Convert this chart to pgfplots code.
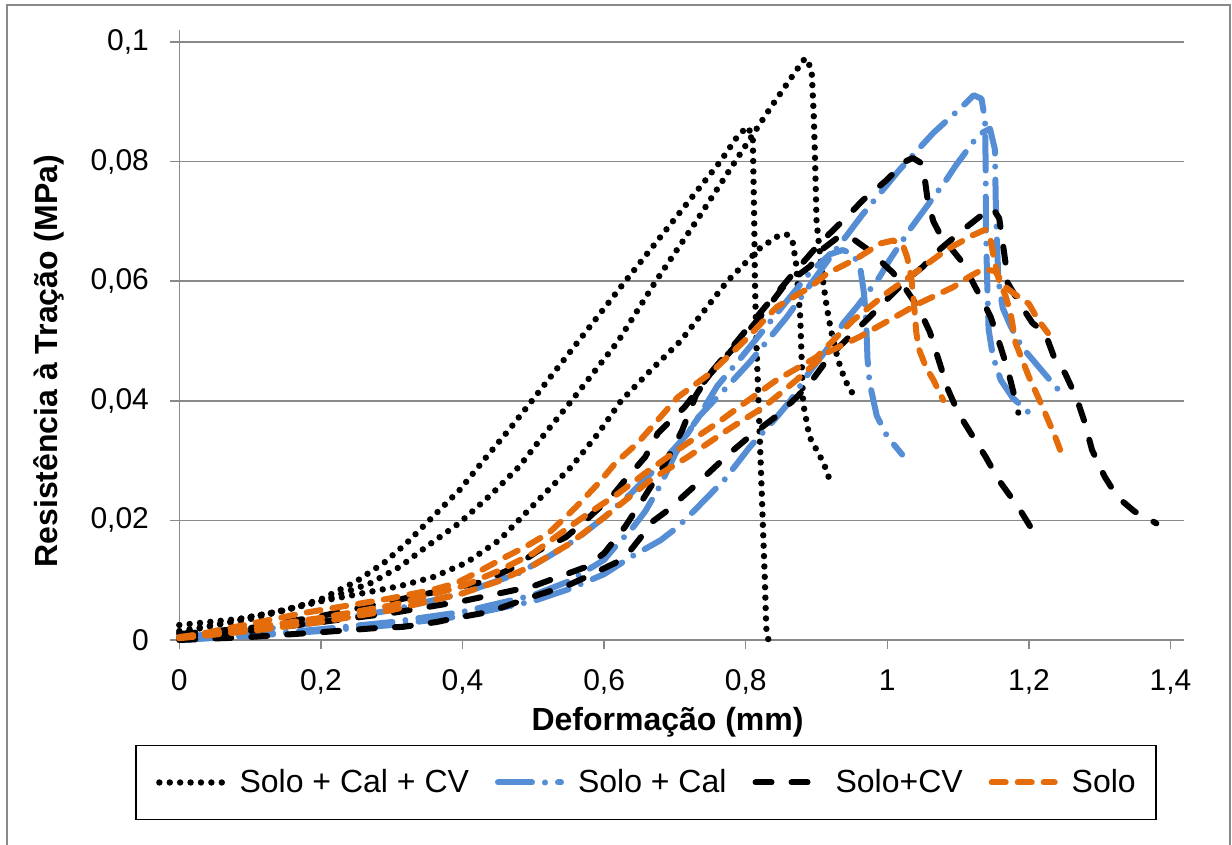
\documentclass[border=0pt]{standalone}
\usepackage{pgfplots}
\pgfplotsset{compat=1.18}
\usepackage{fontspec}
\setmainfont{Liberation Sans}
\definecolor{cblue}{HTML}{558ED5}
\definecolor{corange}{HTML}{E46C0A}
\definecolor{cgrid}{HTML}{898989}
\tikzset{
  sdot/.style={black, line width=3.2pt, line cap=round, line join=round, dash pattern=on 0pt off 5.2pt},
  sblue/.style={cblue, line width=3pt, line cap=round, line join=round, dash pattern=on 17pt off 6.5pt on 0pt off 6.5pt},
  sblack/.style={black, line width=3pt, line cap=round, line join=round, dash pattern=on 8pt off 10pt},
  sorange/.style={corange, line width=3pt, line cap=round, line join=round, dash pattern=on 7pt off 6pt},
}
\begin{document}
\begin{tikzpicture}
\useasboundingbox (0pt,0pt) rectangle (616pt,422.5pt);
\draw[cgrid, line width=0.75pt] (3.5pt,-5pt) -- (3.5pt,420pt) -- (615pt,420pt) -- (615pt,-5pt);
\begin{axis}[
  at={(89.65pt,102.5pt)}, anchor=south west,
  scale only axis, width=502.35pt, height=305pt,
  xmin=0, xmax=1.419, ymin=0, ymax=0.102,
  clip=false,
  axis x line=bottom, axis y line=left,
  axis line style={cgrid, line width=0.75pt, -},
  xtick={0,0.2,0.4,0.6,0.8,1,1.2,1.4},
  xticklabels={0,{0,2},{0,4},{0,6},{0,8},1,{1,2},{1,4}},
  ytick={0,0.02,0.04,0.06,0.08,0.1},
  yticklabels={0,{0,02},{0,04},{0,06},{0,08},{0,1}},
  ymajorgrids, grid style={cgrid, line width=0.75pt},
  tick align=outside, major tick length=4.5pt,
  tick style={cgrid, line width=0.75pt},
  every tick label/.append style={font=\fontsize{15}{18}\selectfont, inner sep=0pt, text=black},
  /pgf/number format/assume math mode=true,
  yticklabel shift=10.5pt, xticklabel shift=10pt,
  xlabel={Deformação (mm)}, ylabel={Resistência à Tração (MPa)},
  xlabel style={font=\fontsize{16}{19}\selectfont\bfseries, at={(axis description cs:0.486,-0.134)}, anchor=center},
  ylabel style={font=\fontsize{16}{19}\selectfont\bfseries, at={(axis description cs:-0.1297,0.457)}, anchor=center, rotate=0},
  legend columns=4,
  legend image code/.code={\draw[#1] (0pt,0pt) -- (31.5pt,0pt);},
  legend style={at={(axis description cs:0.4645,-0.2336)}, anchor=center, draw=black, line width=0.75pt,
    font=\fontsize{16}{19}\selectfont, inner xsep=10pt, inner ysep=10pt,
    nodes={inner xsep=0pt, inner ysep=2pt},
    /tikz/every odd column/.append style={column sep=7pt},
    /tikz/every even column/.append style={column sep=13pt}},
  legend cell align=left,
]
% ---- Solo + Cal + CV (dotted)
\addplot[sdot] coordinates {(0,0.0015)(0.1,0.0035)(0.2,0.0065)(0.27,0.0095)(0.311,0.0122)(0.349,0.0156)(0.396,0.0196)(0.442,0.0245)(0.48,0.029)(0.517,0.0346)(0.554,0.040)(0.62,0.050)(0.673,0.060)(0.73,0.070)(0.785,0.080)(0.835,0.089)(0.87,0.095)(0.884,0.0973)(0.893,0.0955)(0.896,0.088)(0.898,0.080)(0.9,0.070)(0.908,0.061)(0.914,0.056)(0.92,0.052)(0.93,0.047)(0.94,0.0435)(0.952,0.041)};
\addlegendentry{Solo + Cal + CV}
\addplot[sdot, forget plot] coordinates {(0,0.0025)(0.083,0.0035)(0.15,0.005)(0.2,0.0068)(0.25,0.0098)(0.29,0.013)(0.321,0.0162)(0.358,0.0206)(0.396,0.0251)(0.433,0.0305)(0.466,0.0352)(0.498,0.040)(0.564,0.050)(0.63,0.060)(0.697,0.070)(0.764,0.080)(0.79,0.0845)(0.803,0.0858)(0.81,0.084)(0.812,0.07)(0.813,0.06)(0.815,0.05)(0.818,0.04)(0.821,0.03)(0.824,0.02)(0.827,0.01)(0.829,0.002)(0.832,0)(0.842,0)};
\addplot[sdot, forget plot] coordinates {(0,0.0012)(0.129,0.0045)(0.2,0.0065)(0.245,0.0075)(0.311,0.009)(0.358,0.0105)(0.405,0.0129)(0.452,0.0167)(0.489,0.0212)(0.517,0.0246)(0.554,0.029)(0.592,0.0346)(0.624,0.040)(0.665,0.045)(0.708,0.050)(0.774,0.060)(0.82,0.0655)(0.845,0.0675)(0.858,0.0678)(0.866,0.0668)(0.871,0.063)(0.877,0.054)(0.881,0.0396)(0.89,0.034)(0.91,0.0296)(0.917,0.0273)(0.924,0.026)};
% ---- Solo + Cal (blue)
\addplot[sblue] coordinates {(0,0)(0.1,0.0008)(0.2,0.0018)(0.3,0.003)(0.4,0.0047)(0.5,0.0075)(0.55,0.0098)(0.6,0.0134)(0.62,0.0162)(0.638,0.0184)(0.658,0.0215)(0.68,0.026)(0.7,0.031)(0.714,0.034)(0.735,0.0375)(0.771,0.042)(0.806,0.0465)(0.858,0.054)(0.91,0.0625)(0.964,0.071)(1.017,0.0786)(1.065,0.0848)(1.104,0.089)(1.122,0.0911)(1.133,0.0905)(1.138,0.087)(1.139,0.078)(1.139,0.07)(1.141,0.06)(1.143,0.052)(1.149,0.0475)(1.16,0.0435)(1.177,0.0405)(1.2,0.038)};
\addlegendentry{Solo + Cal}
\addplot[sblue, forget plot] coordinates {(0,0.0005)(0.1,0.0015)(0.2,0.003)(0.3,0.005)(0.4,0.0078)(0.48,0.0112)(0.522,0.014)(0.56,0.0168)(0.6,0.0205)(0.638,0.0245)(0.68,0.0295)(0.718,0.0345)(0.742,0.039)(0.76,0.0425)(0.792,0.047)(0.816,0.0505)(0.863,0.0574)(0.891,0.0615)(0.919,0.0645)(0.937,0.0652)(0.952,0.0645)(0.962,0.062)(0.967,0.058)(0.97,0.0535)(0.972,0.047)(0.975,0.043)(0.985,0.0375)(1.0,0.034)(1.021,0.031)};
\addplot[sblue, forget plot] coordinates {(0,0)(0.1,0.0007)(0.2,0.0015)(0.3,0.0025)(0.4,0.004)(0.5,0.0065)(0.55,0.0085)(0.6,0.011)(0.638,0.0139)(0.68,0.0167)(0.704,0.0189)(0.732,0.0222)(0.77,0.0268)(0.806,0.0323)(0.844,0.0373)(0.863,0.040)(0.891,0.045)(0.914,0.0485)(0.938,0.053)(0.957,0.0557)(0.989,0.0607)(1.003,0.0635)(1.034,0.069)(1.052,0.0719)(1.083,0.0769)(1.097,0.0794)(1.129,0.0845)(1.145,0.0855)(1.152,0.082)(1.153,0.074)(1.155,0.066)(1.157,0.06)(1.163,0.0555)(1.174,0.0525)(1.19,0.049)(1.22,0.0448)(1.244,0.0415)};
% ---- Solo+CV (black dashed)
\addplot[sblack] coordinates {(0,0.0005)(0.1,0.0015)(0.2,0.003)(0.3,0.0045)(0.4,0.0065)(0.5,0.009)(0.574,0.0122)(0.6,0.0145)(0.63,0.019)(0.66,0.0245)(0.686,0.0295)(0.71,0.035)(0.73,0.041)(0.75,0.0446)(0.788,0.050)(0.826,0.0555)(0.863,0.0607)(0.905,0.0664)(0.938,0.0702)(0.966,0.0736)(0.999,0.0769)(1.025,0.080)(1.036,0.0806)(1.047,0.0798)(1.053,0.077)(1.057,0.0735)(1.065,0.070)(1.078,0.067)(1.09,0.0655)(1.107,0.063)(1.122,0.0595)(1.136,0.0564)(1.146,0.054)(1.16,0.049)(1.17,0.0452)(1.178,0.0415)(1.185,0.038)};
\addlegendentry{Solo+CV}
\addplot[sblack, forget plot] coordinates {(0,0.001)(0.1,0.002)(0.2,0.004)(0.3,0.0065)(0.396,0.0089)(0.428,0.0097)(0.47,0.012)(0.508,0.015)(0.546,0.0172)(0.574,0.020)(0.61,0.0239)(0.63,0.0268)(0.658,0.0306)(0.676,0.0346)(0.714,0.039)(0.75,0.0445)(0.788,0.0495)(0.826,0.0548)(0.854,0.0592)(0.891,0.0625)(0.91,0.0655)(0.93,0.0673)(0.95,0.0672)(0.97,0.0655)(0.989,0.0635)(1.008,0.0614)(1.027,0.0585)(1.045,0.0553)(1.06,0.0515)(1.072,0.047)(1.086,0.0418)(1.1,0.038)(1.121,0.034)(1.139,0.0306)(1.157,0.0268)(1.185,0.0222)(1.209,0.0176)};
\addplot[sblack, forget plot] coordinates {(0,0)(0.1,0.0005)(0.2,0.0013)(0.279,0.002)(0.316,0.0022)(0.363,0.003)(0.396,0.0038)(0.438,0.0047)(0.498,0.0072)(0.55,0.0092)(0.574,0.0105)(0.616,0.0129)(0.634,0.0145)(0.652,0.0172)(0.666,0.0196)(0.69,0.0217)(0.73,0.026)(0.778,0.0313)(0.8,0.0335)(0.844,0.0375)(0.872,0.0406)(0.891,0.043)(0.919,0.0475)(0.942,0.0502)(0.975,0.054)(0.999,0.0569)(1.027,0.0602)(1.05,0.0624)(1.073,0.0652)(1.107,0.0686)(1.135,0.0712)(1.149,0.0722)(1.158,0.0705)(1.163,0.0664)(1.167,0.063)(1.17,0.0597)(1.19,0.0557)(1.205,0.053)(1.223,0.0513)(1.237,0.0468)(1.251,0.0446)(1.262,0.0418)(1.27,0.0395)(1.279,0.0363)(1.289,0.0318)(1.307,0.0273)(1.325,0.0239)(1.349,0.0215)(1.365,0.0205)(1.38,0.0195)};
% ---- Solo (orange)
\addplot[sorange] coordinates {(0,0.0003)(0.05,0.0015)(0.1,0.0027)(0.175,0.0045)(0.25,0.006)(0.3,0.007)(0.358,0.0084)(0.391,0.0095)(0.424,0.0115)(0.461,0.0139)(0.489,0.0156)(0.522,0.0179)(0.56,0.0222)(0.592,0.0262)(0.616,0.0296)(0.648,0.033)(0.676,0.0368)(0.704,0.0406)(0.75,0.0446)(0.798,0.050)(0.844,0.0557)(0.891,0.059)(0.914,0.0612)(0.957,0.0638)(0.99,0.0663)(1.008,0.0668)(1.022,0.066)(1.028,0.064)(1.034,0.0605)(1.038,0.0557)(1.041,0.0513)(1.045,0.0485)(1.055,0.0455)(1.065,0.0435)(1.079,0.0401)};
\addlegendentry{Solo}
\addplot[sorange, forget plot] coordinates {(0,0.0005)(0.1,0.002)(0.2,0.0037)(0.3,0.0058)(0.4,0.009)(0.45,0.0115)(0.5,0.0145)(0.546,0.0185)(0.582,0.0215)(0.62,0.0245)(0.658,0.0279)(0.704,0.0318)(0.76,0.0363)(0.798,0.0396)(0.844,0.0435)(0.9,0.0473)(0.952,0.0535)(0.999,0.058)(1.031,0.0607)(1.083,0.0652)(1.121,0.0677)(1.138,0.0686)(1.146,0.0668)(1.151,0.0635)(1.158,0.06)(1.167,0.0575)(1.174,0.0547)(1.181,0.0497)(1.2,0.044)(1.219,0.039)(1.237,0.034)(1.244,0.0318)};
\addplot[sorange, forget plot] coordinates {(0,0.0003)(0.1,0.0015)(0.2,0.003)(0.3,0.005)(0.4,0.0078)(0.45,0.0098)(0.5,0.0125)(0.55,0.016)(0.6,0.0205)(0.666,0.0268)(0.718,0.0306)(0.774,0.0351)(0.826,0.039)(0.872,0.0435)(0.914,0.048)(0.961,0.0507)(1.003,0.0535)(1.045,0.0563)(1.093,0.059)(1.115,0.0607)(1.135,0.062)(1.152,0.0617)(1.167,0.059)(1.185,0.0574)(1.2,0.0562)(1.213,0.0535)(1.227,0.0513)};
\end{axis}
\end{tikzpicture}
\end{document}
